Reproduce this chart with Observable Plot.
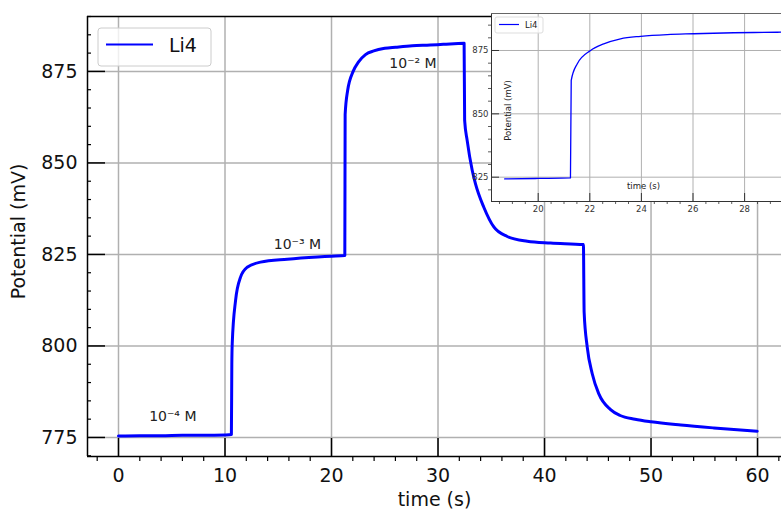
<!DOCTYPE html>
<html><head><meta charset="utf-8">
<script src="https://cdn.jsdelivr.net/npm/d3@7"></script>
<script src="https://cdn.jsdelivr.net/npm/@observablehq/plot@0.6"></script>
<style>
body{margin:0;background:white;}
#wrap{position:relative;width:781px;height:510px;overflow:hidden;font-family:"DejaVu Sans",sans-serif;}
#inset{position:absolute;left:451px;top:0;}
</style></head><body><div id="wrap"><div id="main"></div><div id="inset"></div></div>
<script>
// ---- data ----
const time = [0, 2, 4, 6, 8, 10, 10.6, 10.64, 10.68, 10.99, 11.46, 12.08, 13.33, 15.84, 18.7, 20, 21.25,
  21.28, 21.51, 22.03, 22.54, 23.19, 23.97, 25.0, 26.03, 27.58, 29.26, 30.5, 32.45,
  32.5, 32.74, 33.21, 33.52, 34.3, 35.24, 36.5, 38.38, 40.56, 43.65,
  43.72, 44.01, 44.48, 45.1, 46.2, 47.1, 48.5, 50.0, 52.8, 55.9, 59.97];
const potential = [775.4, 775.5, 775.5, 775.6, 775.6, 775.7, 775.8, 795.0, 800.7, 812.4, 818.8, 821.5, 822.9, 823.7, 824.3, 824.5, 824.7,
  863.2, 869.7, 875.0, 877.6, 879.6, 880.6, 881.3, 881.6, 882.0, 882.2, 882.4, 882.7,
  861.6, 856.1, 848.0, 844.3, 837.9, 832.5, 829.9, 828.6, 828.1, 827.7,
  809.2, 799.7, 792.4, 786.9, 782.6, 781.0, 780.0, 779.3, 778.4, 777.6, 776.7];
const seriesName = "Li4";
const annoTime = [5.1, 16.8, 27.65];
const annoPotential = [780.8, 827.8, 877.1];
const annoLabel = ["10\u207B\u2074 M", "10\u207B\u00B3 M", "10\u207B\u00B2 M"];
const xTicks = [0, 10, 20, 30, 40, 50, 60];
const yTicks = [775, 800, 825, 850, 875];
const insetXTicks = [20, 22, 24, 26, 28];
const insetYTicks = [825, 850, 875];
const xLabel = "time (s)";
const yLabel = "Potential (mV)";

const data = time.map((t, i) => ({t, v: potential[i]}));
const annos = annoTime.map((t, i) => ({t, v: annoPotential[i], label: annoLabel[i]}));
const FONT = "DejaVu Sans";

// ---- main chart ----
const W = 781, H = 510, mL = 87, mT = 16, mB = 54, mR = 0;
const pw = W - mL - mR, ph = H - mT - mB;
const xDom = [-2.91, 62.25], yDom = [769.8, 890.0];
const xMinor = d3.range(-2, 63, 2).filter(d => d % 10 !== 0);
const yMinor = d3.range(770, 891, 5).filter(d => d % 25 !== 0);
const spine = {stroke: "black", strokeWidth: 1.5};

const main = Plot.plot({
  width: W, height: H, marginLeft: mL, marginRight: mR, marginTop: mT, marginBottom: mB,
  style: {fontFamily: FONT, background: "white", color: "#111"},
  x: {domain: xDom}, y: {domain: yDom},
  marks: [
    Plot.gridX(xTicks, {stroke: "#b0b0b0", strokeOpacity: 1, strokeWidth: 1.5}),
    Plot.gridY(yTicks, {stroke: "#b0b0b0", strokeOpacity: 1, strokeWidth: 1.5}),
    Plot.line(data, {x: "t", y: "v", stroke: "#0000ff", strokeWidth: 3, curve: "monotone-x"}),
    Plot.text(annos, {x: "t", y: "v", text: "label", fontSize: 14, fill: "#222"}),
    Plot.ruleX([xDom[0]], spine),
    Plot.ruleY([yDom[0]], spine),
    Plot.ruleY([yDom[1]], spine),
    Plot.tickX(xTicks, {x: d => d, insetTop: ph - 18, stroke: "black", strokeWidth: 1.5}),
    Plot.tickX(xMinor, {x: d => d, insetTop: ph, insetBottom: -5, stroke: "black", strokeWidth: 1.2}),
    Plot.tickY(yTicks, {y: d => d, insetRight: pw - 18, stroke: "black", strokeWidth: 1.5}),
    Plot.tickY(yMinor, {y: d => d, insetRight: pw - 4, stroke: "black", strokeWidth: 1.2}),
    Plot.axisX({ticks: xTicks, tickSize: 0, tickPadding: 12, fontSize: 19, label: null}),
    Plot.axisY({ticks: yTicks, tickSize: 0, tickPadding: 10, fontSize: 19, label: null}),
    Plot.text([xLabel], {text: d => d, frameAnchor: "bottom", lineAnchor: "middle", textAnchor: "middle", dy: 43, fontSize: 19}),
    Plot.text([yLabel], {text: d => d, frameAnchor: "left", lineAnchor: "middle", textAnchor: "middle", dx: -69, dy: -5, rotate: -90, fontSize: 19})
  ]
});
document.getElementById("main").appendChild(main);

// main legend
{
  const svg = d3.select(main);
  const g = svg.append("g").attr("text-anchor", "start");
  g.append("rect").attr("x", 98).attr("y", 28).attr("width", 113).attr("height", 38).attr("rx", 3)
    .attr("fill", "white").attr("fill-opacity", 0.8).attr("stroke", "#cccccc").attr("stroke-width", 1);
  g.append("line").attr("x1", 106).attr("x2", 153).attr("y1", 44.5).attr("y2", 44.5)
    .attr("stroke", "#0000ff").attr("stroke-width", 2);
  g.append("text").attr("x", 169).attr("y", 45).attr("dy", "0.35em").attr("font-size", 19)
    .attr("text-anchor", "start").attr("font-family", FONT).attr("fill", "#111").text(seriesName);
}

// ---- inset ----
const iW = 330, iH = 225, imL = 40, imT = 13, imB = 24, imR = 0;
const ipw = iW - imL - imR, iph = iH - imT - imB;
const ixDom = [18.19, 29.43], iyDom = [815.4, 889.6];
const ixMinor = d3.range(18.5, 29.5, 0.5).filter(d => d % 2 !== 0);
const iyMinor = d3.range(820, 890, 5).filter(d => d % 25 !== 0);
const ispine = {stroke: "#333", strokeWidth: 1};

const inset = Plot.plot({
  width: iW, height: iH, marginLeft: imL, marginRight: imR, marginTop: imT, marginBottom: imB,
  style: {fontFamily: FONT, background: "transparent", color: "#333"},
  x: {domain: ixDom}, y: {domain: iyDom},
  marks: [
    Plot.frame({fill: "white", stroke: "none"}),
    Plot.gridX(insetXTicks, {stroke: "#b0b0b0", strokeOpacity: 1, strokeWidth: 1}),
    Plot.gridY(insetYTicks, {stroke: "#b0b0b0", strokeOpacity: 1, strokeWidth: 1}),
    Plot.line(data.filter(d => d.t >= 18.7 && d.t <= 30.5), {x: "t", y: "v", stroke: "#0000ff", strokeWidth: 1.3, curve: "monotone-x", clip: true}),
    Plot.ruleX([ixDom[0]], ispine),
    Plot.ruleY([iyDom[0]], ispine),
    Plot.ruleY([iyDom[1]], {stroke: "#666", strokeWidth: 1}),
    Plot.tickX(insetXTicks, {x: d => d, insetTop: iph - 8, stroke: "#333", strokeWidth: 1}),
    Plot.tickX(ixMinor, {x: d => d, insetTop: iph, insetBottom: -3, stroke: "#333", strokeWidth: 0.8}),
    Plot.tickY(insetYTicks, {y: d => d, insetRight: ipw - 8, stroke: "#333", strokeWidth: 1}),
    Plot.tickY(iyMinor, {y: d => d, insetLeft: -3, insetRight: ipw, stroke: "#333", strokeWidth: 0.8}),
    Plot.axisX({ticks: insetXTicks, tickSize: 0, tickPadding: 4, fontSize: 8.5, label: null}),
    Plot.axisY({ticks: insetYTicks, tickSize: 0, tickPadding: 3, fontSize: 8.5, label: null}),
    Plot.text([xLabel], {text: d => d, frameAnchor: "bottom", lineAnchor: "middle", textAnchor: "middle", dx: 7, dy: -15, fontSize: 8.5, fill: "#222"}),
    Plot.text([yLabel], {text: d => d, frameAnchor: "left", lineAnchor: "middle", textAnchor: "middle", dx: 17, dy: 3, rotate: -90, fontSize: 8.5, fill: "#222"})
  ]
});
document.getElementById("inset").appendChild(inset);

// inset legend
{
  const ox = 451;
  const svg = d3.select(inset);
  const g = svg.append("g").attr("text-anchor", "start");
  g.append("rect").attr("x", 495 - ox).attr("y", 17).attr("width", 48).attr("height", 16).attr("rx", 2)
    .attr("fill", "white").attr("fill-opacity", 0.8).attr("stroke", "#dddddd").attr("stroke-width", 1);
  g.append("line").attr("x1", 499 - ox).attr("x2", 519 - ox).attr("y1", 24.5).attr("y2", 24.5)
    .attr("stroke", "#0000ff").attr("stroke-width", 1.2);
  g.append("text").attr("x", 525 - ox).attr("y", 25).attr("dy", "0.35em").attr("font-size", 8.5)
    .attr("text-anchor", "start").attr("font-family", FONT).attr("fill", "#222").text(seriesName);
}
</script></body></html>
